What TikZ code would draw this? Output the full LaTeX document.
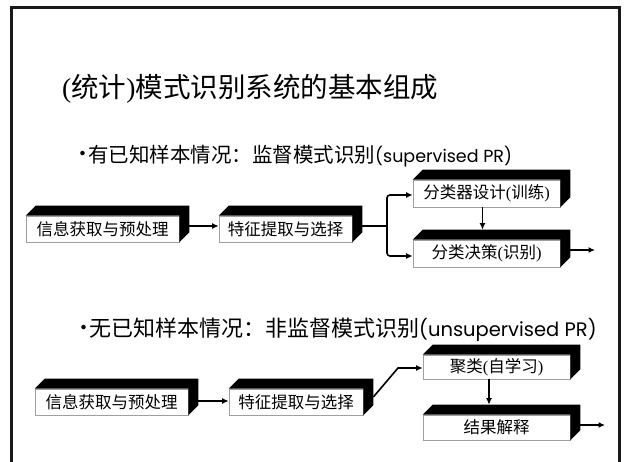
\documentclass[tikz,border=0pt]{standalone}
\usepackage{fontspec}
\setmainfont{Liberation Serif}
\newfontfamily\cjk{Noto Sans CJK SC}
\newfontfamily\lat{Poppins}
\usetikzlibrary{arrows.meta,calc}
\newcommand\cubeblack[1]{\fill[black] (#1.north west) -- ++(10pt,10pt) -- ([shift={(10pt,10pt)}]#1.north east) -- ([shift={(10pt,10pt)}]#1.south east) -- (#1.south east) -- (#1.north east) -- cycle;}
\begin{document}
\begin{tikzpicture}[x=1pt,y=-1pt,
  face/.style={draw=gray!75,line width=0.7pt,fill=white,inner sep=0pt,font=\cjk\fontsize{16.5}{17}\selectfont},
  arr/.style={line width=1.6pt,-{Latex[length=6.5pt,width=6pt]}},
  ln/.style={line width=1.6pt},
  bul/.style={anchor=west,inner sep=0pt,font=\cjk\fontsize{21}{22}\selectfont},
  frame/.style={line width=3pt,draw=black!90}]
\useasboundingbox (0,0) rectangle (624,462);
\draw[frame] (11,462) -- (11,8) -- (619,8) -- (619,462);
% title
\node[anchor=west,inner sep=0pt,font=\cjk\fontsize{27.5}{28}\selectfont] (title) at (62,89) {{\rmfamily(}统计{\rmfamily)}模式识别系统的基本组成};
% bullets
\node[bul] (dot1) at (72,156) {•};
\node[bul,font=\cjk\fontsize{20.5}{21}\selectfont] (txt1) at (88,156) {有已知样本情况：监督模式识别{\lat\fontsize{17.5}{18}\selectfont(supervised PR)}};
\node[bul] (dot2) at (73,330) {•};
\node[bul,font=\cjk\fontsize{22}{22}\selectfont] (txt2) at (89,330) {无已知样本情况：非监督模式识别{\lat\fontsize{19.5}{20}\selectfont(unsupervised PR)}};
% supervised row
\node[face,minimum width=153pt,minimum height=26pt] (a1) at (102.5,229) {信息获取与预处理};
\node[face,minimum width=133pt,minimum height=26pt] (a2) at (285.5,229) {特征提取与选择};
\node[face,minimum width=147pt,minimum height=27pt] (a3) at (486.5,193.5) {分类器设计{\rmfamily(}训练{\rmfamily)}};
\node[face,minimum width=147pt,minimum height=27pt] (a4) at (486.5,253.5) {分类决策{\rmfamily(}识别{\rmfamily)}};
\cubeblack{a1}\cubeblack{a2}\cubeblack{a3}\cubeblack{a4}
\coordinate (br) at (387,226);
\coordinate (out1) at (595,250);
\draw[arr] ([xshift=10pt,yshift=3pt]a1.east) -- ([yshift=3pt]a2.west);
\draw[ln] ([xshift=10pt,yshift=3pt]a2.east) -- (br);
\draw[arr,rounded corners=3pt] (br) |- ([yshift=-1.5pt]a3.west);
\draw[arr,rounded corners=3pt] (br) |- ([yshift=-2.5pt]a4.west);
\draw[arr] ([xshift=-4pt]a3.south) -- ([xshift=-4pt,yshift=10pt]a4.north);
\draw[arr] ([xshift=10pt,yshift=3.5pt]a4.east) -- (out1);
% unsupervised row
\node[face,minimum width=153pt,minimum height=26pt] (b1) at (111.5,402) {信息获取与预处理};
\node[face,minimum width=134pt,minimum height=26pt] (b2) at (296,402) {特征提取与选择};
\node[face,minimum width=147pt,minimum height=24pt] (b5) at (496.5,367) {聚类{\rmfamily(}自学习{\rmfamily)}};
\node[face,minimum width=147pt,minimum height=25pt] (b6) at (496.5,427.5) {结果解释};
\cubeblack{b1}\cubeblack{b2}\cubeblack{b5}\cubeblack{b6}
\coordinate (kink) at (398,368);
\coordinate (out2) at (605,425);
\draw[arr] ([xshift=10pt,yshift=1pt]b1.east) -- ([yshift=1pt]b2.west);
\draw[arr] ([xshift=10pt,yshift=5pt]b2.east) -- (kink) -- ([yshift=-1pt]b5.west);
\draw[arr] ([xshift=-7.5pt]b5.south) -- ([xshift=-7.5pt,yshift=10pt]b6.north);
\draw[arr] ([xshift=10pt,yshift=2.5pt]b6.east) -- (out2);
\end{tikzpicture}
\end{document}
